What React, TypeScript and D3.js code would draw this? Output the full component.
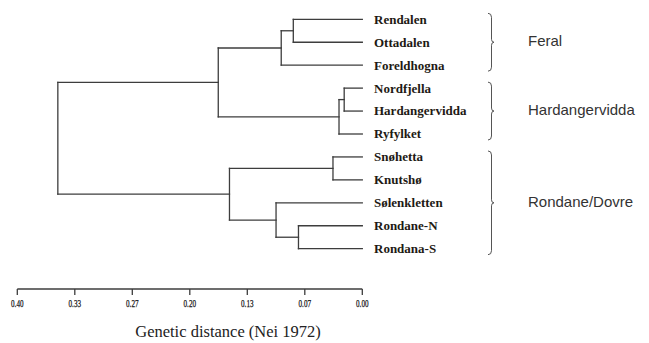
import React from 'react'
import * as d3 from 'd3'

// populations, top to bottom
const LEAVES = [
  'Rendalen', 'Ottadalen', 'Foreldhogna',
  'Nordfjella', 'Hardangervidda', 'Ryfylket',
  'Snøhetta', 'Knutshø', 'Sølenkletten', 'Rondane-N', 'Rondana-S',
]

// agglomeration steps (hclust style): node n{i+1} joins MERGE_A[i] and MERGE_B[i] at MERGE_H[i]
const MERGE_A = ['Nordfjella', 'n1', 'Snøhetta', 'Rondane-N', 'Rendalen', 'n5', 'Sølenkletten', 'n3', 'n6', 'n9']
const MERGE_B = ['Hardangervidda', 'Ryfylket', 'Knutshø', 'Rondana-S', 'Ottadalen', 'Foreldhogna', 'n4', 'n7', 'n2', 'n8']
const MERGE_H = [0.021, 0.027, 0.034, 0.074, 0.080, 0.094, 0.100, 0.154, 0.167, 0.353]

const GROUPS = ['Feral', 'Hardangervidda', 'Rondane/Dovre']
const GROUP_FIRST = ['Rendalen', 'Nordfjella', 'Snøhetta']
const GROUP_LAST = ['Foreldhogna', 'Ryfylket', 'Rondana-S']

const TICKS = [0.4, 0.4 * 5 / 6, 0.4 * 4 / 6, 0.2, 0.4 * 2 / 6, 0.4 / 6, 0]

const W = 649
const H = 343
const LINE = '#3d3d3d'

export default function App() {
  const x = d3.scaleLinear().domain([0.4, 0]).range([17.3, 362.3])
  const y = d3.scalePoint<string>().domain(LEAVES).range([19.3, 248.7])
  const fmt = d3.format('.2f')

  const pos: Record<string, { h: number; y: number }> = {}
  LEAVES.forEach(l => { pos[l] = { h: 0, y: y(l) as number } })
  MERGE_H.forEach((h, i) => {
    pos['n' + (i + 1)] = { h, y: (pos[MERGE_A[i]].y + pos[MERGE_B[i]].y) / 2 }
  })

  const segs: { x1: number; y1: number; x2: number; y2: number }[] = []
  MERGE_H.forEach((h, i) => {
    const a = pos[MERGE_A[i]]
    const b = pos[MERGE_B[i]]
    segs.push({ x1: x(h), y1: a.y, x2: x(h), y2: b.y })
    segs.push({ x1: x(h), y1: a.y, x2: x(a.h), y2: a.y })
    segs.push({ x1: x(h), y1: b.y, x2: x(b.h), y2: b.y })
  })

  const axisY = 289
  const bx = 488

  const brace = (y0: number, y1: number) => {
    const m = (y0 + y1) / 2
    return `M${bx},${y0} Q${bx + 3.5},${y0} ${bx + 3.5},${y0 + 4} L${bx + 3.5},${m - 3}` +
      ` Q${bx + 3.5},${m} ${bx + 6},${m} Q${bx + 3.5},${m} ${bx + 3.5},${m + 3}` +
      ` L${bx + 3.5},${y1 - 4} Q${bx + 3.5},${y1} ${bx},${y1}`
  }

  return (
    <svg width={W} height={H} style={{ position: 'absolute', left: 0, top: 0, background: '#fff' }}>
      <g stroke={LINE} strokeWidth={1.3} fill="none" strokeLinecap="square">
        {segs.map((s, i) => (
          <line key={i} x1={s.x1} y1={s.y1} x2={s.x2} y2={s.y2} />
        ))}
      </g>

      {LEAVES.map(l => (
        <text key={l} x={374} y={pos[l].y} dy="0.34em" fontFamily="'Liberation Serif', serif"
          fontWeight="bold" fontSize={13} fill="#1e1a14">{l}</text>
      ))}

      {GROUPS.map((g, i) => {
        const y0 = (y(GROUP_FIRST[i]) as number) - 6
        const y1 = (y(GROUP_LAST[i]) as number) + 6
        return (
          <g key={g}>
            <path d={brace(y0, y1)} stroke="#555" strokeWidth={1} fill="none" />
            <text x={528} y={(y0 + y1) / 2 - 1} dy="0.35em" fontFamily="'Liberation Sans', Arial, sans-serif"
              fontSize={15} fill="#333">{g}</text>
          </g>
        )
      })}

      <line x1={x(0.4)} x2={x(0)} y1={axisY} y2={axisY} stroke={LINE} strokeWidth={1.3} />
      {TICKS.map((t, i) => (
        <g key={i}>
          <line x1={x(t)} x2={x(t)} y1={axisY} y2={axisY + 6} stroke={LINE} strokeWidth={1.3} />
          <text x={x(t)} y={axisY + 14} dy="0.35em" textAnchor="middle" fontFamily="'Liberation Serif', serif"
            fontSize={11} textLength={12.5} lengthAdjust="spacingAndGlyphs" fill="#111"
            stroke="#111" strokeWidth={0.25}>{fmt(t)}</text>
        </g>
      ))}
      <text x={228} y={337} textAnchor="middle" fontFamily="'Liberation Serif', serif" fontSize={16.5}
        fill="#222">Genetic distance (Nei 1972)</text>
    </svg>
  )
}
